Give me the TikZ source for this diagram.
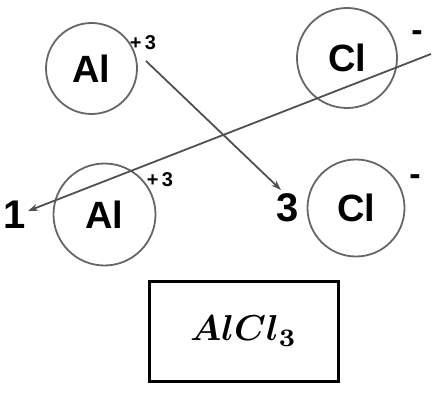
\documentclass[tikz,border=0pt]{standalone}
\usepackage{graphicx}
\usepackage{fontspec}
\setmainfont{Liberation Sans}
\usetikzlibrary{arrows.meta}
\definecolor{ringgray}{HTML}{666666}
\definecolor{arrowgray}{HTML}{505050}
\begin{document}
\begin{tikzpicture}[x=1pt,y=-1pt,
  atom/.style={circle,draw=ringgray,line width=1.8pt,inner sep=0pt,font=\fontsize{38}{40}\selectfont\bfseries},
  charge/.style={inner sep=0pt,font=\fontsize{20}{22}\selectfont\bfseries},
  minus/.style={inner sep=0pt,font=\fontsize{34}{36}\selectfont\bfseries},
  coef/.style={inner sep=0pt,font=\fontsize{40}{42}\selectfont\bfseries},
  arr/.style={draw=arrowgray,line width=1.8pt,-{Stealth[length=10pt,width=7pt]}}]
\useasboundingbox (0,0) rectangle (441,406);
\node[atom,minimum size=91pt] (al1) at (91.5,68.5) {Al};
\node[charge] (c1) at (143,43) {+\,3};
\node[atom,minimum size=100pt] (cl1) at (347,58) {Cl};
\node[minus] (c2) at (417,36) {-};
\node[atom,minimum size=102pt] (al2) at (104.5,214.5) {Al};
\node[charge] (c3) at (160,180) {+\,3};
\node[atom,minimum size=97pt] (cl2) at (356,208) {Cl};
\node[minus] (c4) at (415,180) {-};
\node[coef] (one) at (15,215) {1};
\node[coef] (three) at (288,208) {3};
\coordinate (s1) at (146,61);
\coordinate (s2) at (431,54);
\coordinate (e1) at (281,190);
\coordinate (e2) at (28,211);
\draw[arr] (s1) -- (e1);
\draw[arr] (s2) -- (e2);
\node[draw=black,line width=3pt,minimum width=189pt,minimum height=100pt,inner sep=0pt] (box) at (243.5,331) {\scalebox{3.6}{\boldmath$AlCl_3$}};
\end{tikzpicture}
\end{document}
